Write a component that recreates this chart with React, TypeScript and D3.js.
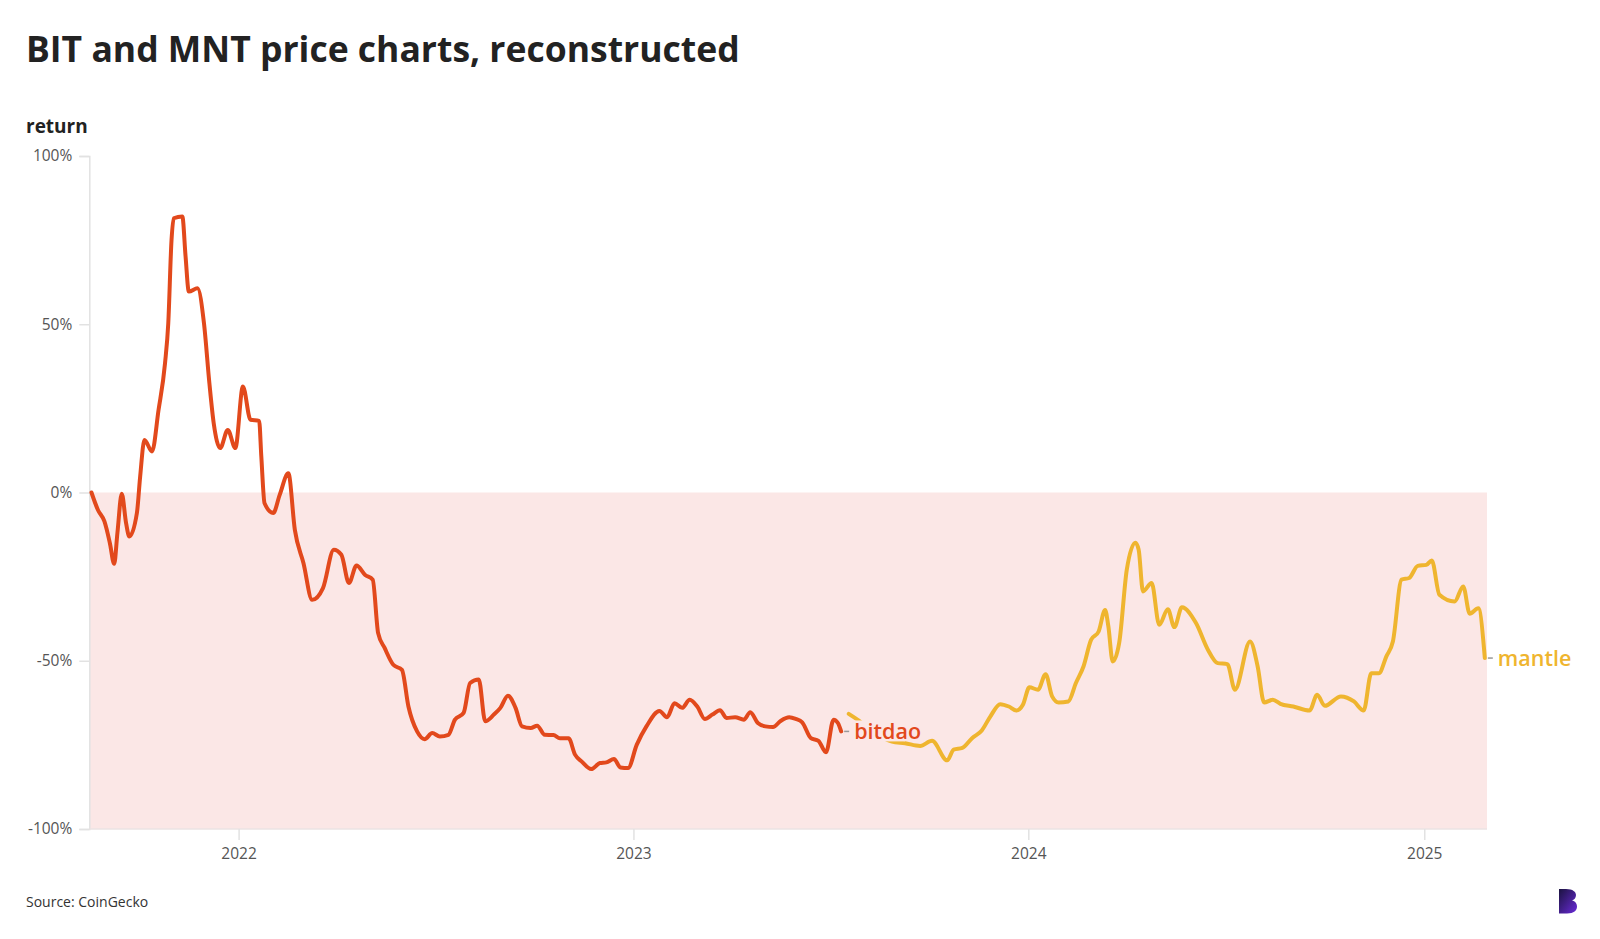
import React, { useEffect, useRef } from 'react';
import * as d3 from 'd3';

// BIT (bitdao) return vs first day, %
const bitdaoDates = [
  '2021-08-18', '2021-08-24', '2021-08-30', '2021-09-04', '2021-09-08', '2021-09-11', '2021-09-15',
  '2021-09-19', '2021-09-22', '2021-09-29', '2021-10-02', '2021-10-06', '2021-10-13', '2021-10-19',
  '2021-10-25', '2021-10-28', '2021-10-31', '2021-11-02', '2021-11-10', '2021-11-13', '2021-11-16',
  '2021-11-24', '2021-11-30', '2021-12-05', '2021-12-09', '2021-12-15', '2021-12-22', '2021-12-29',
  '2022-01-05', '2022-01-12', '2022-01-20', '2022-01-22', '2022-01-25', '2022-02-02', '2022-02-08',
  '2022-02-16', '2022-02-22', '2022-03-02', '2022-03-10', '2022-03-20', '2022-03-30', '2022-04-06',
  '2022-04-13', '2022-04-20', '2022-04-28', '2022-05-05', '2022-05-10', '2022-05-16', '2022-05-24',
  '2022-06-01', '2022-06-07', '2022-06-15', '2022-06-22', '2022-06-29', '2022-07-06', '2022-07-14',
  '2022-07-20', '2022-07-28', '2022-08-03', '2022-08-11', '2022-08-17', '2022-08-25', '2022-08-31',
  '2022-09-07', '2022-09-14', '2022-09-20', '2022-09-28', '2022-10-04', '2022-10-11', '2022-10-19',
  '2022-10-25', '2022-11-02', '2022-11-08', '2022-11-14', '2022-11-23', '2022-12-01', '2022-12-07',
  '2022-12-14', '2022-12-20', '2022-12-27', '2023-01-04', '2023-01-13', '2023-01-25', '2023-02-01',
  '2023-02-08', '2023-02-15', '2023-02-22', '2023-03-01', '2023-03-08', '2023-03-15', '2023-03-22',
  '2023-03-28', '2023-04-05', '2023-04-13', '2023-04-19', '2023-04-26', '2023-05-03', '2023-05-10',
  '2023-05-17', '2023-05-25', '2023-05-31', '2023-06-06', '2023-06-14', '2023-06-21', '2023-06-28',
  '2023-07-05', '2023-07-09', '2023-07-12',
];
const bitdaoValues = [
  0, -5.2, -8.6, -15, -21.2, -12, -0.4,
  -9.1, -13.1, -6.1, 4.7, 15.6, 12.2, 24.5,
  38.4, 50.3, 75, 81.5, 82, 70.1, 59.7,
  60.7, 50.3, 32.5, 20.6, 13.2, 18.6, 13.2,
  31.5, 21.6, 21.3, 10.7, -3.2, -6.1, -0.7,
  5.7, -11.1, -21, -31.9, -28.4, -17, -18.5,
  -26.9, -21.7, -24.5, -25.9, -41.8, -46.2, -51.2,
  -52.7, -63.6, -71, -73.3, -71.5, -72.5, -72,
  -67.5, -65.5, -56.6, -55.6, -68, -66, -64,
  -60.4, -64, -69.5, -70, -69.3, -72, -72.1,
  -73, -73, -77.9, -79.9, -82.2, -80.4, -80.2,
  -79.2, -81.7, -81.9, -75, -69.5, -64.9, -66.8,
  -62.6, -64, -61.6, -63.6, -67.3, -66, -64.7,
  -67, -66.8, -67.5, -65.3, -68.5, -69.5, -69.7,
  -67.9, -66.8, -67.3, -68.3, -73, -73.8, -77.2,
  -67.5, -68.5, -71,
];

// MNT (mantle) return, %
const mantleDates = [
  '2023-07-19', '2023-07-27', '2023-08-12', '2023-08-28', '2023-09-09', '2023-09-23', '2023-10-04',
  '2023-10-18', '2023-10-24', '2023-11-01', '2023-11-10', '2023-11-19', '2023-11-27', '2023-12-06',
  '2023-12-14', '2023-12-21', '2023-12-27', '2024-01-02', '2024-01-10', '2024-01-17', '2024-01-23',
  '2024-01-29', '2024-02-07', '2024-02-14', '2024-02-21', '2024-02-28', '2024-03-06', '2024-03-12',
  '2024-03-15', '2024-03-19', '2024-03-25', '2024-04-01', '2024-04-09', '2024-04-12', '2024-04-16',
  '2024-04-24', '2024-05-01', '2024-05-09', '2024-05-15', '2024-05-22', '2024-06-04', '2024-06-15',
  '2024-06-24', '2024-07-03', '2024-07-10', '2024-07-24', '2024-07-31', '2024-08-06', '2024-08-14',
  '2024-08-21', '2024-09-02', '2024-09-17', '2024-09-24', '2024-10-01', '2024-10-16', '2024-10-28',
  '2024-11-06', '2024-11-13', '2024-11-20', '2024-11-27', '2024-12-03', '2024-12-11', '2024-12-18',
  '2024-12-26', '2025-01-03', '2025-01-08', '2025-01-15', '2025-01-29', '2025-02-06', '2025-02-12',
  '2025-02-20', '2025-02-26',
];
const mantleValues = [
  -65.8, -67.5, -71.5, -74, -74.5, -75.3, -73.8,
  -79.6, -76.4, -75.9, -73, -70.7, -66.5, -62.9,
  -63.6, -64.8, -63.1, -57.9, -58.6, -54, -60.6,
  -62.4, -62.1, -56.6, -51.7, -43.8, -41.3, -34.9,
  -39.8, -50.2, -44.7, -23, -14.9, -17, -29.4,
  -26.9, -39.3, -34.7, -40, -34.1, -38.8, -46.7,
  -50.7, -51, -58.6, -44.3, -51.7, -62.4, -61.6,
  -62.8, -63.6, -64.8, -60.1, -63.4, -60.6, -62.1,
  -64.8, -53.7, -53.7, -48.7, -44.3, -25.9, -25.4,
  -21.8, -21.5, -20.2, -30.4, -32.4, -27.9, -36,
  -34.4, -49.2,
];

const yTicks = [100, 50, 0, -50, -100];
const xTickYears = ['2022', '2023', '2024', '2025'];
const seriesNames = ['bitdao', 'mantle'];

const W = 1600;
const H = 939;
const margin = { top: 156, right: 113, bottom: 110, left: 89.3 };
const FONT = "'Open Sans', 'Noto Sans', sans-serif";

export default function App() {
  const svgRef = useRef<SVGSVGElement | null>(null);

  useEffect(() => {
    if (!svgRef.current) return;
    const svg = d3.select(svgRef.current);
    svg.selectAll('*').remove();

    const parse = d3.utcParse('%Y-%m-%d');
    const x = d3.scaleUtc()
      .domain([parse('2021-08-16')!, parse('2025-02-28')!])
      .range([margin.left, W - margin.right]);
    const y = d3.scaleLinear()
      .domain([-100, 100])
      .range([H - margin.bottom, margin.top]);

    const bit = bitdaoDates.map((d, i) => ({ date: parse(d)!, value: bitdaoValues[i] }));
    const mnt = mantleDates.map((d, i) => ({ date: parse(d)!, value: mantleValues[i] }));

    // title
    svg.append('text')
      .attr('x', 26).attr('y', 62)
      .attr('font-family', FONT).attr('font-weight', 700).attr('font-size', 35.5)
      .attr('fill', '#222')
      .text('BIT and MNT price charts, reconstructed');

    svg.append('text')
      .attr('x', 26).attr('y', 133)
      .attr('font-family', FONT).attr('font-weight', 700).attr('font-size', 19)
      .attr('fill', '#222')
      .text('return');

    // negative zone
    svg.append('rect')
      .attr('x', x.range()[0]).attr('y', y(0))
      .attr('width', x.range()[1] - x.range()[0])
      .attr('height', y(-100) - y(0))
      .attr('fill', '#fbe7e6');

    // y axis
    const yAxis = svg.append('g')
      .attr('transform', `translate(${margin.left},0)`)
      .call(d3.axisLeft(y).tickValues(yTicks).tickSize(10).tickPadding(7).tickFormat(d => `${d}%`));
    yAxis.select('.domain').attr('stroke', '#e2e2e2').attr('stroke-width', 1.5);
    yAxis.selectAll('.tick line').attr('stroke', '#e2e2e2').attr('stroke-width', 1.5);
    yAxis.selectAll('.tick text')
      .attr('font-family', FONT).attr('font-size', 15.5).attr('fill', '#555');

    // x axis
    const xAxis = svg.append('g')
      .attr('transform', `translate(0,${y(-100)})`)
      .call(d3.axisBottom(x)
        .tickValues(xTickYears.map(s => parse(`${s}-01-01`)!))
        .tickSize(11).tickPadding(8)
        .tickFormat(d => d3.utcFormat('%Y')(d as Date)));
    xAxis.select('.domain').attr('stroke', '#ebe3e3').attr('stroke-width', 1.5)
      .attr('d', `M${x.range()[0]},0H${x.range()[1]}`);
    xAxis.selectAll('.tick line').attr('stroke', '#e2e2e2').attr('stroke-width', 1.5);
    xAxis.selectAll('.tick text')
      .attr('font-family', FONT).attr('font-size', 15.5).attr('fill', '#555');

    const line = d3.line<{ date: Date; value: number }>()
      .x(d => x(d.date))
      .y(d => y(d.value))
      .curve(d3.curveMonotoneX);

    svg.append('path').datum(mnt)
      .attr('d', line).attr('fill', 'none')
      .attr('stroke', '#efb52f').attr('stroke-width', 4)
      .attr('stroke-linejoin', 'round').attr('stroke-linecap', 'round');

    svg.append('path').datum(bit)
      .attr('d', line).attr('fill', 'none')
      .attr('stroke', '#e2491c').attr('stroke-width', 4)
      .attr('stroke-linejoin', 'round').attr('stroke-linecap', 'round');

    // end labels
    const labels = [
      { name: seriesNames[0], last: bit[bit.length - 1], color: '#e2491c', bg: true },
      { name: seriesNames[1], last: mnt[mnt.length - 1], color: '#efb52f', bg: false },
    ];
    labels.forEach(l => {
      const lx = x(l.last.date);
      const ly = y(l.last.value);
      const g = svg.append('g');
      const t = g.append('text')
        .attr('x', lx + 13).attr('y', ly + 7.5)
        .attr('font-family', FONT).attr('font-weight', 600).attr('font-size', 21.5)
        .attr('fill', l.color)
        .text(l.name);
      if (l.bg) {
        // label sits on a pink chip that hides the start of the other line
        const bb = (t.node() as SVGTextElement).getBBox();
        g.insert('rect', 'text')
          .attr('x', bb.x - 2).attr('y', ly - 11)
          .attr('width', bb.width - 14).attr('height', 21)
          .attr('fill', '#fbe7e6');
      }
      g.append('line')
        .attr('x1', lx + 3).attr('x2', lx + 8)
        .attr('y1', ly).attr('y2', ly)
        .attr('stroke', '#999').attr('stroke-width', 1.5);
    });

    svg.append('text')
      .attr('x', 26).attr('y', 907)
      .attr('font-family', FONT).attr('font-size', 14)
      .attr('fill', '#333')
      .text('Source: CoinGecko');

    // logo
    const defs = svg.append('defs');
    const grad = defs.append('linearGradient').attr('id', 'logoGrad')
      .attr('x1', 0).attr('y1', 0).attr('x2', 1).attr('y2', 1);
    grad.append('stop').attr('offset', '0%').attr('stop-color', '#1b1340');
    grad.append('stop').attr('offset', '100%').attr('stop-color', '#6a2bd9');
    svg.append('path')
      .attr('d', 'M1559,889 h7 c7,0 10,3 10,6 c0,3 -2,5 -4,5.5 c3,0.5 5,3 5,6 c0,4 -3,7 -10,7 h-8 Z')
      .attr('fill', 'url(#logoGrad)');
  }, []);

  return (
    <svg ref={svgRef} width={W} height={H}
      style={{ position: 'absolute', left: 0, top: 0, background: '#fff' }} />
  );
}
